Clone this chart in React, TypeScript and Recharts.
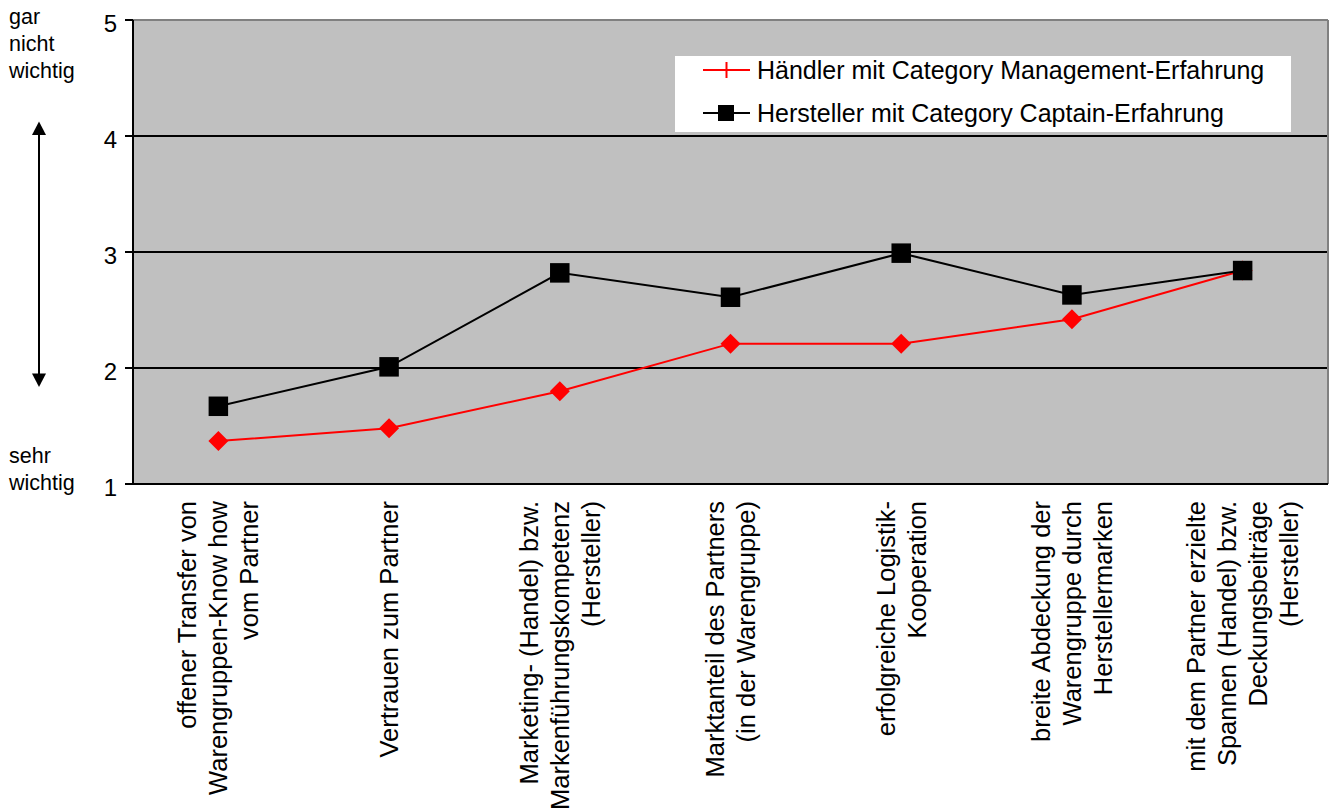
import React from "react";
import {
  LineChart,
  Line,
  XAxis,
  YAxis,
  CartesianGrid,
  ReferenceLine,
  Legend,
  Customized,
} from "recharts";

const categories: string[] = [
  "offener Transfer von\nWarengruppen-Know how\nvom Partner",
  "Vertrauen zum Partner",
  "Marketing- (Handel) bzw.\nMarkenführungskompetenz\n(Hersteller)",
  "Marktanteil des Partners\n(in der Warengruppe)",
  "erfolgreiche Logistik-\nKooperation",
  "breite Abdeckung der\nWarengruppe durch\nHerstellermarken",
  "mit dem Partner erzielte\nSpannen (Handel) bzw.\nDeckungsbeiträge\n(Hersteller)",
];

const haendlerValues: number[] = [1.37, 1.48, 1.8, 2.21, 2.21, 2.42, 2.84];
const herstellerValues: number[] = [1.67, 2.01, 2.82, 2.61, 2.99, 2.63, 2.84];

const yTicks: number[] = [1, 2, 3, 4, 5];
const bandEdges: number[] = [-0.5, 0.5, 1.5, 2.5, 3.5, 4.5, 5.5, 6.5];

const haendlerName = "Händler mit Category Management-Erfahrung";
const herstellerName = "Hersteller mit Category Captain-Erfahrung";

const data = categories.map((name, i) => ({
  idx: i,
  name,
  haendler: haendlerValues[i],
  hersteller: herstellerValues[i],
}));

const FONT = "'Liberation Sans', Arial, sans-serif";

const YTick = (props: any) => {
  const { x, y, payload } = props;
  return (
    <text
      x={x}
      y={y + 3}
      dy="0.355em"
      textAnchor="end"
      fontFamily={FONT}
      fontSize={24}
      fill="#000"
    >
      {payload.value}
    </text>
  );
};

const CategoryTick = (props: any) => {
  const { x, y, payload } = props;
  const lines = String(payload.value).split("\n");
  const n = lines.length;
  return (
    <g transform={`translate(${x},${y + 9}) rotate(-90)`}>
      <text textAnchor="end" fontFamily={FONT} fontSize={25.5} fill="#000">
        {lines.map((l, i) => (
          <tspan key={i} x={0} y={(i - (n - 1) / 2) * 31 + 9}>
            {l}
          </tspan>
        ))}
      </text>
    </g>
  );
};

const Diamond = (props: any) => {
  const { cx, cy, index } = props;
  if (cx == null || cy == null) return <g key={`d-${index}`} />;
  const r = 10;
  return (
    <polygon
      key={`d-${index}`}
      points={`${cx},${cy - r} ${cx + r},${cy} ${cx},${cy + r} ${cx - r},${cy}`}
      fill="#ff0000"
    />
  );
};

const Square = (props: any) => {
  const { cx, cy, index } = props;
  if (cx == null || cy == null) return <g key={`s-${index}`} />;
  const s = 19.5;
  return (
    <rect
      key={`s-${index}`}
      x={cx - s / 2}
      y={cy - s / 2}
      width={s}
      height={s}
      fill="#000"
    />
  );
};

const LegendBox = (props: any) => {
  const payload: any[] = props.payload || [];
  const nameOf = (key: string, fallback: string) => {
    const item = payload.find((p) => p.dataKey === key);
    return item ? item.value : fallback;
  };
  return (
    <svg width={616} height={76} style={{ display: "block" }}>
      <rect x={0} y={0} width={616} height={76} fill="#fff" />
      <line x1={28} x2={75} y1={14} y2={14} stroke="#ff0000" strokeWidth={2} />
      <line x1={51.5} x2={51.5} y1={6} y2={22} stroke="#ff0000" strokeWidth={2} />
      <text x={82} y={23} fontFamily={FONT} fontSize={25} fill="#000">
        {nameOf("haendler", haendlerName)}
      </text>
      <line x1={28} x2={75} y1={57} y2={57} stroke="#000" strokeWidth={2} />
      <rect x={43} y={49} width={16} height={16} fill="#000" />
      <text x={82} y={66} fontFamily={FONT} fontSize={25} fill="#000">
        {nameOf("hersteller", herstellerName)}
      </text>
    </svg>
  );
};

const SideNotes = () => (
  <g fontFamily={FONT} fontSize={21.5} fill="#000">
    <text x={9} y={24}>gar</text>
    <text x={9} y={51}>nicht</text>
    <text x={9} y={77.5}>wichtig</text>
    <text x={9} y={463}>sehr</text>
    <text x={9} y={490}>wichtig</text>
    <line x1={39} x2={39} y1={132} y2={376} stroke="#000" strokeWidth={2} />
    <polygon points="39,121.5 32,135 46,135" fill="#000" />
    <polygon points="39,387 32,373.5 46,373.5" fill="#000" />
  </g>
);

export default function App() {
  return (
    <div style={{ position: "absolute", left: 0, top: 0 }}>
      <LineChart
        width={1331}
        height={809}
        data={data}
        margin={{ top: 20, right: 3, bottom: 0, left: 0 }}
      >
        <CartesianGrid
          xAxisId="a-edges"
          vertical={false}
          stroke="#000"
          strokeWidth={2}
          fill="#c0c0c0"
          fillOpacity={1}
        />
        <XAxis
          xAxisId="b-labels"
          dataKey="name"
          type="category"
          scale="band"
          interval={0}
          height={317}
          tickSize={0}
          tickMargin={0}
          axisLine={false}
          tickLine={false}
          tick={<CategoryTick />}
        />
        <XAxis
          xAxisId="a-edges"
          dataKey="idx"
          type="number"
          domain={[-0.5, 6.5]}
          ticks={bandEdges}
          interval={0}
          tick={false}
          tickSize={8}
          height={8}
          axisLine={{ stroke: "#000", strokeWidth: 2 }}
          tickLine={{ stroke: "#000", strokeWidth: 2 }}
        />
        <YAxis
          domain={[1, 5]}
          ticks={yTicks}
          interval={0}
          width={133}
          tickSize={8}
          tickMargin={8}
          axisLine={{ stroke: "#000", strokeWidth: 2 }}
          tickLine={{ stroke: "#000", strokeWidth: 2 }}
          tick={<YTick />}
        />
        <ReferenceLine xAxisId="a-edges" y={5} stroke="#808080" strokeWidth={2} />
        <ReferenceLine xAxisId="a-edges" x={6.5} stroke="#808080" strokeWidth={2} />
        <Line
          xAxisId="a-edges"
          dataKey="haendler"
          name={haendlerName}
          stroke="#ff0000"
          strokeWidth={2}
          dot={Diamond}
          activeDot={false}
          isAnimationActive={false}
        />
        <Line
          xAxisId="a-edges"
          dataKey="hersteller"
          name={herstellerName}
          stroke="#000"
          strokeWidth={2}
          dot={Square}
          activeDot={false}
          isAnimationActive={false}
        />
        <Legend
          layout="vertical"
          align="center"
          verticalAlign="middle"
          content={<LegendBox />}
          wrapperStyle={{ left: 675, top: 56, width: 616, height: 76 }}
        />
        <Customized component={SideNotes} />
      </LineChart>
    </div>
  );
}
